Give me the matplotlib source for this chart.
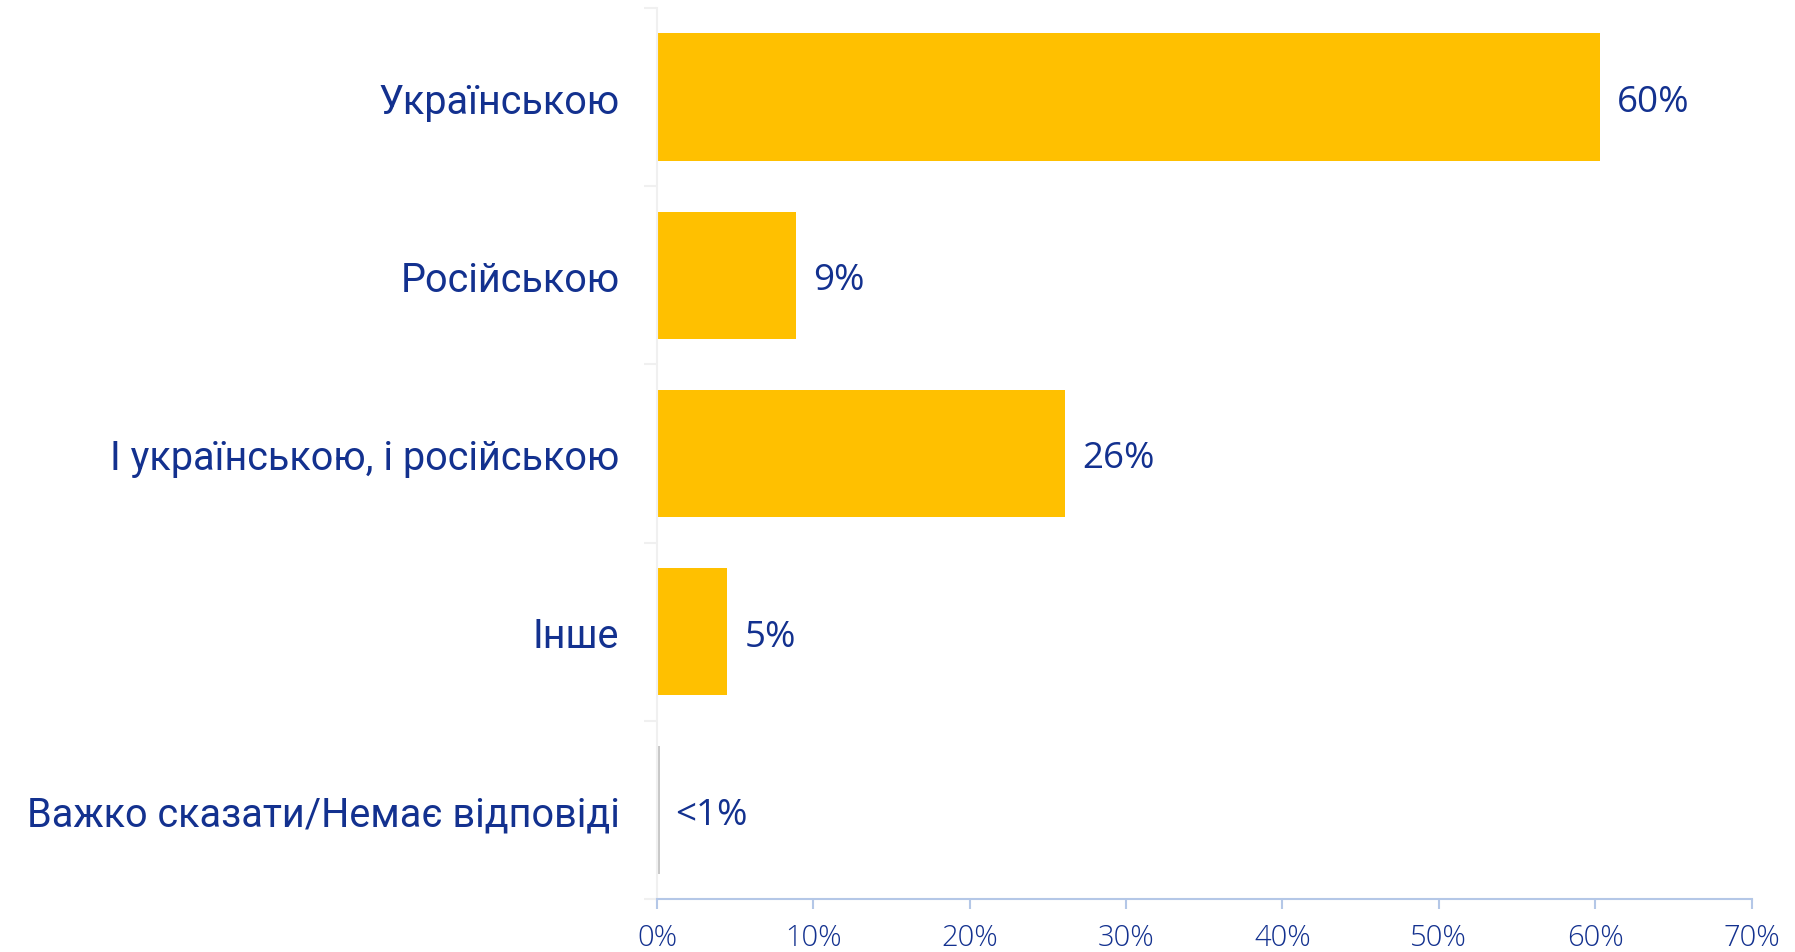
import matplotlib
matplotlib.use("Agg")
import matplotlib.pyplot as plt
from matplotlib.ticker import FixedLocator

categories = ["Українською", "Російською", "І українською, і російською", "Інше",
              "Важко сказати/Немає відповіді"]
values = [60.3, 8.9, 26.1, 4.5, 0.2]
value_labels = ["60%", "9%", "26%", "5%", "<1%"]
bar_colors = ["#FFC000", "#FFC000", "#FFC000", "#FFC000", "#C8C8C8"]
xticks = [0, 10, 20, 30, 40, 50, 60, 70]
xtick_labels = ["0%", "10%", "20%", "30%", "40%", "50%", "60%", "70%"]

TXT = "#13318f"

fig = plt.figure(figsize=(17.95, 9.53), dpi=100)
ax = fig.add_axes([0.366, 0.0556, 0.6098, 0.935])

y = list(range(len(categories)))
ax.barh(y, values, height=0.715, color=bar_colors, zorder=2)
ax.set_ylim(len(categories) - 0.5, -0.5)
ax.set_xlim(0, 70)

for yi, v, lab in zip(y, values, value_labels):
    ax.annotate(lab, xy=(v, yi), xytext=(17 if v > 1 else 15, -5), textcoords="offset pixels",
                va="center", ha="left", fontsize=26.5, color=TXT, family="Open Sans")

ax.set_yticks(y)
ax.set_yticklabels(categories, fontsize=28.5, color=TXT, family="Roboto")
ax.tick_params(axis="y", which="major", length=0, pad=27)
ax.yaxis.set_minor_locator(FixedLocator([i - 0.5 for i in range(len(categories) + 1)]))
ax.tick_params(axis="y", which="minor", length=9.5, width=1.5, color="#f0f0f0")

ax.set_xticks(xticks)
ax.set_xticklabels(xtick_labels, fontsize=21, color=TXT, family="Open Sans", fontweight="light")
ax.tick_params(axis="x", which="major", length=7, width=1.5, color="#b4c7e7", pad=10)

for s in ["top", "right"]:
    ax.spines[s].set_visible(False)
ax.spines["left"].set_color("#f0f0f0")
ax.spines["left"].set_linewidth(1.5)
ax.spines["bottom"].set_color("#b4c7e7")
ax.spines["bottom"].set_linewidth(1.5)

fig.savefig("out.png", dpi=100, facecolor="white")
